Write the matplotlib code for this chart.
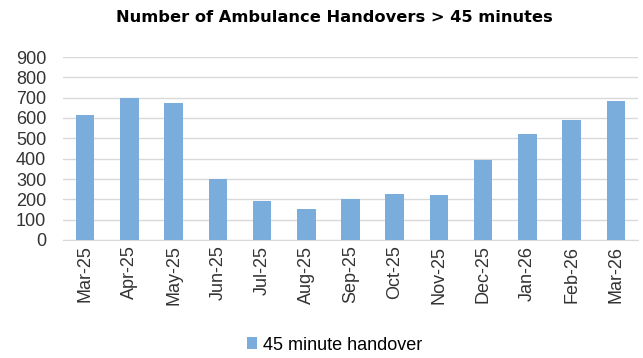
import matplotlib
matplotlib.use("Agg")
import numpy as np
from matplotlib import pyplot as plt

# data
months = ['Mar-25', 'Apr-25', 'May-25', 'Jun-25', 'Jul-25', 'Aug-25', 'Sep-25',
          'Oct-25', 'Nov-25', 'Dec-25', 'Jan-26', 'Feb-26', 'Mar-26']
handovers = [614, 700, 673, 299, 192, 154, 200, 227, 220, 394, 522, 588, 686]
y_ticks = [0, 100, 200, 300, 400, 500, 600, 700, 800, 900]

plt.rcParams['font.family'] = ['Liberation Sans', 'DejaVu Sans']

fig = plt.figure(figsize=(6.43, 3.58), dpi=100)
ax = fig.add_axes([63/643, 1 - 240/358, 575/643, 183/358])

x = np.arange(len(months))
ax.bar(x, handovers, width=0.42, color='#7aaddc', label='45 minute handover', zorder=3)

ax.set_xlim(-0.5, len(months) - 0.5)
ax.set_ylim(0, 900)
ax.set_yticks(y_ticks)
ax.set_yticklabels([str(v) for v in y_ticks], fontsize=13, color='#333333')
ax.set_xticks(x)
ax.set_xticklabels(months, rotation=90, fontsize=13, color='#333333')
ax.tick_params(axis='both', length=0, pad=4)
ax.tick_params(axis='y', pad=12)
ax.yaxis.grid(True, color='#d9d9d9', linewidth=1, zorder=0)
for s in ['top', 'right', 'left']:
    ax.spines[s].set_visible(False)
ax.spines['bottom'].set_color('#d9d9d9')

fig.text(0.52, 1 - 18/358, 'Number of Ambulance Handovers > 45 minutes',
         ha='center', va='center', fontsize=11.7, fontweight='bold',
         family=['DejaVu Sans'])

fig.legend(loc='center', bbox_to_anchor=(0.52, 1 - 345/358), frameon=False,
           fontsize=13, handlelength=0.6, handleheight=0.6, handletextpad=0.3)

fig.savefig('out.png', dpi=100, facecolor='white')
